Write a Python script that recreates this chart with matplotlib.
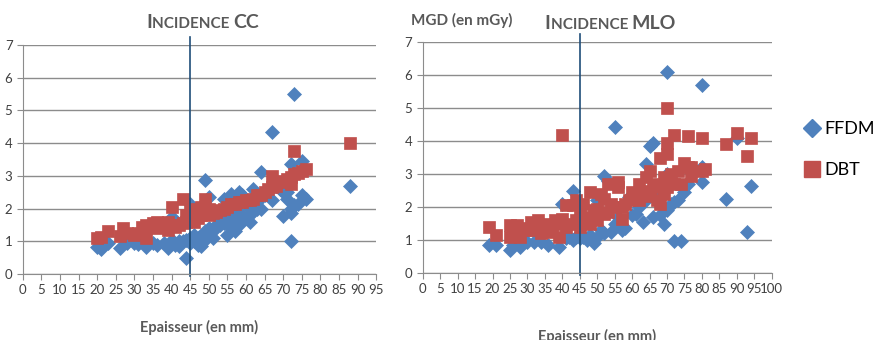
import matplotlib
matplotlib.use("Agg")
import matplotlib.pyplot as plt
from matplotlib.lines import Line2D
from matplotlib.offsetbox import TextArea, HPacker, AnnotationBbox

plt.rcParams['font.family'] = ['Lato', 'DejaVu Sans']

# --- data (thickness in mm, MGD in mGy) ---
cc_ffdm_x = [20, 21, 21, 23, 26, 28, 30, 31, 33, 35, 36, 38, 39, 40, 40, 41, 42, 42, 43, 44,
             44, 45, 45, 45, 46, 46, 47, 47, 48, 48, 48, 49, 49, 49, 50, 50, 50, 51, 51, 52,
             53, 53, 54, 54, 55, 55, 56, 56, 56, 57, 57, 57, 58, 58, 59, 59, 60, 60, 61, 61,
             62, 62, 63, 63, 64, 64, 65, 66, 67, 67, 68, 69, 70, 70, 71, 71, 72, 72, 72, 72,
             73, 73, 74, 75, 75, 76, 88]
cc_ffdm_y = [0.82, 0.75, 0.8, 0.95, 0.8, 0.95, 0.95, 0.92, 0.82, 0.95, 0.88, 0.95, 0.8, 1.05, 1.75, 0.9, 0.85, 1.0, 1.0, 0.48,
             1.05, 0.95, 1.1, 2.15, 1.0, 1.2, 1.1, 0.9, 0.85, 1.0, 1.15, 2.88, 1.05, 1.3, 1.2, 2.35, 1.4, 1.1, 1.3, 1.5,
             1.5, 1.7, 2.3, 1.55, 1.2, 1.9, 2.45, 1.6, 1.4, 1.3, 1.7, 2.0, 2.5, 1.5, 2.4, 1.8, 1.7, 2.2, 1.6, 2.0,
             2.6, 1.9, 2.2, 2.0, 3.12, 2.0, 2.4, 2.5, 4.35, 2.25, 2.7, 2.6, 1.78, 2.5, 2.3, 2.5, 3.35, 1.0, 1.85, 2.0,
             5.5, 2.1, 2.15, 3.45, 2.4, 2.3, 2.7]

cc_dbt_x = [20, 21, 23, 26, 27, 28, 30, 31, 32, 33, 33, 34, 35, 36, 36, 37, 38, 39, 39, 40,
            40, 41, 42, 43, 43, 44, 44, 45, 45, 46, 46, 47, 47, 48, 48, 49, 49, 50, 50, 51,
            52, 53, 54, 55, 56, 57, 58, 59, 60, 61, 62, 63, 64, 65, 66, 67, 67, 68, 69, 70,
            71, 72, 72, 73, 73, 74, 75, 76, 88]
cc_dbt_y = [1.1, 1.12, 1.3, 1.15, 1.4, 1.25, 1.2, 1.25, 1.45, 1.1, 1.5, 1.45, 1.55, 1.4, 1.6, 1.45, 1.5, 1.6, 1.35, 2.05,
            1.5, 1.45, 1.5, 2.3, 1.55, 1.8, 1.6, 1.75, 2.0, 1.6, 1.85, 1.7, 1.9, 1.8, 2.05, 2.3, 1.9, 2.0, 1.8, 1.85,
            1.9, 1.95, 2.0, 2.05, 2.15, 2.15, 2.2, 2.2, 2.25, 2.25, 2.3, 2.4, 2.4, 2.5, 2.6, 3.0, 2.65, 2.7, 2.8, 2.85,
            2.9, 2.95, 2.75, 3.75, 3.05, 3.1, 3.15, 3.2, 4.0]

mlo_ffdm_x = [19, 21, 25, 26, 27, 28, 30, 32, 34, 36, 39, 40, 41, 42, 43, 43, 44, 45, 46, 47,
              48, 49, 50, 50, 51, 52, 52, 53, 54, 55, 55, 56, 57, 58, 59, 60, 61, 62, 63, 64,
              64, 65, 66, 66, 67, 68, 69, 70, 70, 70, 71, 72, 72, 73, 74, 75, 76, 80, 80, 80,
              87, 90, 93, 94]
mlo_ffdm_y = [0.85, 0.85, 0.7, 0.85, 0.9, 0.8, 0.95, 0.95, 0.95, 0.85, 0.78, 2.1, 1.05, 1.1, 2.5, 1.0, 1.1, 1.05, 1.1, 1.0,
              1.15, 0.9, 1.1, 2.2, 1.3, 2.95, 1.2, 2.8, 1.25, 4.42, 1.5, 1.7, 1.3, 1.35, 2.3, 1.75, 1.8, 2.0, 1.55, 3.3,
              2.2, 3.85, 3.95, 1.7, 2.3, 1.75, 1.5, 6.1, 1.9, 3.0, 2.1, 0.97, 2.15, 2.2, 0.97, 2.45, 2.7, 5.7, 2.75, 3.2,
              2.25, 4.1, 1.25, 2.65]

mlo_dbt_x = [19, 21, 25, 25, 26, 27, 28, 29, 30, 31, 32, 33, 34, 35, 36, 37, 38, 39, 39, 40,
             40, 41, 41, 42, 43, 44, 44, 45, 45, 46, 46, 47, 48, 48, 49, 50, 50, 51, 52, 52,
             53, 53, 54, 55, 56, 56, 57, 57, 58, 59, 60, 61, 62, 62, 63, 64, 64, 65, 65, 66,
             67, 67, 68, 68, 69, 69, 70, 70, 70, 70, 71, 72, 72, 73, 74, 75, 76, 76, 77, 77,
             80, 80, 81, 87, 90, 93, 94]
mlo_dbt_y = [1.4, 1.15, 1.45, 1.1, 1.3, 1.45, 1.1, 1.35, 1.3, 1.55, 1.3, 1.6, 1.2, 1.4, 1.5, 1.25, 1.6, 1.1, 1.5, 4.2,
             1.65, 1.4, 2.05, 1.5, 2.05, 1.6, 2.2, 1.4, 1.9, 2.1, 1.55, 1.7, 1.5, 2.45, 1.9, 1.6, 1.95, 2.4, 1.8, 2.25,
             1.85, 2.7, 2.1, 2.0, 2.6, 2.75, 1.65, 2.0, 2.1, 2.2, 2.45, 2.3, 2.2, 2.7, 2.4, 2.5, 2.9, 2.35, 3.1, 2.6,
             2.2, 2.7, 2.1, 3.5, 2.4, 2.9, 5.0, 3.95, 3.6, 2.6, 3.0, 4.2, 2.7, 3.1, 2.7, 3.35, 4.15, 3.2, 2.95, 3.2,
             3.1, 4.1, 3.15, 3.9, 4.25, 3.55, 4.1]

cut_x = 45
blue = '#4F81BD'
red = '#C0504D'
grid_c = '#8C8C8C'
text_c = '#595959'


def style_axis(ax, xmax):
    ax.set_xlim(0, xmax)
    ax.set_ylim(0, 7)
    ax.set_xticks(range(0, xmax + 1, 5))
    ax.set_yticks(range(0, 8))
    ax.yaxis.grid(True, color=grid_c, linewidth=1.0)
    ax.set_axisbelow(True)
    for s in ['top', 'right']:
        ax.spines[s].set_visible(False)
    for s in ['left', 'bottom']:
        ax.spines[s].set_color(grid_c)
    ax.tick_params(axis='both', colors=grid_c, labelcolor='#404040', labelsize=9.5,
                   length=4, direction='out')


def small_caps_title(fig, x, y, first, rest, last):
    parts = [TextArea(first, textprops=dict(size=14, weight='bold', color=text_c)),
             TextArea(rest, textprops=dict(size=11, weight='bold', color=text_c)),
             TextArea(last, textprops=dict(size=14, weight='bold', color=text_c))]
    box = HPacker(children=parts, align='baseline', pad=0, sep=0)
    ab = AnnotationBbox(box, (x, y), xycoords='figure fraction', frameon=False)
    fig.add_artist(ab)


def draw_panel(ax, fx, fy, dx, dy, xmax, pad):
    style_axis(ax, xmax)
    ax.plot(fx, fy, 'D', color=blue, ms=7, mec=blue, mew=0.5, ls='none')
    ax.plot(dx, dy, 's', color=red, ms=8, mec=red, mew=0.5, ls='none')
    ax.plot([cut_x, cut_x], [-0.05, 7.25], color='#1F4E79', lw=1.2, clip_on=False)
    ax.set_xlabel('Epaisseur (en mm)', fontsize=10.5, weight='bold', color=text_c, labelpad=pad)


fig = plt.figure(figsize=(8.77, 3.4), dpi=100)
ax1 = fig.add_axes([0.026, 0.194, 0.403, 0.674])
ax2 = fig.add_axes([0.482, 0.197, 0.398, 0.679])

draw_panel(ax1, cc_ffdm_x, cc_ffdm_y, cc_dbt_x, cc_dbt_y, 95, 17)
draw_panel(ax2, mlo_ffdm_x, mlo_ffdm_y, mlo_dbt_x, mlo_dbt_y, 100, 24)

small_caps_title(fig, 0.231, 0.935, 'I', 'NCIDENCE ', 'CC')
small_caps_title(fig, 0.696, 0.930, 'I', 'NCIDENCE ', 'MLO')
fig.text(0.527, 0.94, 'MGD (en mGy)', fontsize=11, weight='bold', color=text_c,
         ha='center', va='center')

handles = [Line2D([], [], marker='D', color=blue, ls='none', ms=9),
           Line2D([], [], marker='s', color=red, ls='none', ms=11)]
fig.legend(handles, ['FFDM', 'DBT'], loc='center left', bbox_to_anchor=(0.895, 0.56),
           frameon=False, fontsize=13, handletextpad=0.1, labelspacing=1.4,
           handlelength=1.2)

fig.savefig('out.png', dpi=100)
